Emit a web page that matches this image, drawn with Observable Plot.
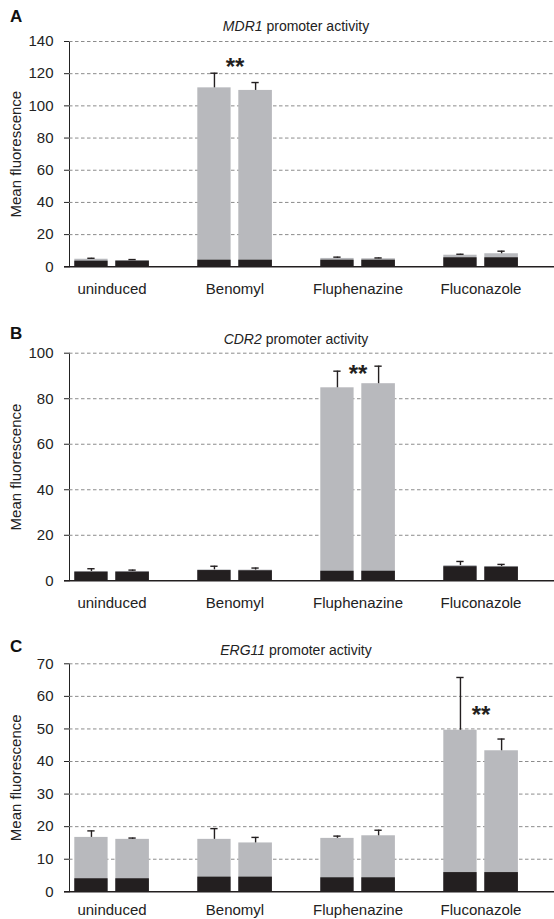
<!DOCTYPE html>
<html><head><meta charset="utf-8">
<script src="https://cdn.jsdelivr.net/npm/d3@7"></script>
<script src="https://cdn.jsdelivr.net/npm/@observablehq/plot@0.6"></script>
<style>
body{margin:0;background:#fff;}
#root{position:relative;width:554px;height:919px;overflow:hidden;font-family:"Liberation Sans",Arial,sans-serif;background:#fff;}
.plotbox{position:absolute;left:0;z-index:1}
.letter{position:absolute;left:10px;font-weight:bold;font-size:17px;line-height:20px;z-index:2;color:#111}
.title{position:absolute;transform:translateX(-50%);font-size:14px;line-height:18px;white-space:nowrap;z-index:2;color:#222}
svg{background:none !important;}
</style></head><body><div id="root"></div>
<script>
// ---- data ----
const groups = ["uninduced", "Benomyl", "Fluphenazine", "Fluconazole"];
const replicates = [1, 2];

// MDR1 (panel A), order: group x replicate
const mdr1Total = [4.7, 3.9, 111.2, 109.6, 5.2, 5.0, 7.2, 8.1];
const mdr1Base  = [3.5, 3.5, 4.1, 4.1, 4.1, 4.1, 5.6, 5.6];
const mdr1Err   = [0.6, 0.6, 9.1, 4.9, 0.8, 0.5, 0.6, 1.6];
const mdr1Ticks = [0, 20, 40, 60, 80, 100, 120, 140];

// CDR2 (panel B)
const cdr2Total = [4.1, 4.1, 4.8, 4.7, 84.8, 86.6, 6.7, 6.3];
const cdr2Base  = [3.8, 3.8, 4.5, 4.4, 4.2, 4.2, 6.2, 6.0];
const cdr2Err   = [1.2, 0.6, 1.6, 0.9, 7.3, 7.7, 1.8, 0.9];
const cdr2Ticks = [0, 20, 40, 60, 80, 100];

// ERG11 (panel C)
const erg11Total = [16.7, 16.1, 16.1, 15.0, 16.4, 17.2, 49.6, 43.3];
const erg11Base  = [4.0, 4.0, 4.5, 4.5, 4.3, 4.3, 5.9, 5.9];
const erg11Err   = [2.0, 0.4, 3.3, 1.7, 0.7, 1.7, 16.2, 3.6];
const erg11Ticks = [0, 10, 20, 30, 40, 50, 60, 70];

// significance markers
const starGroups = ["Benomyl", "Fluphenazine", "Fluconazole"];
const starValues = [127.5, 93.3, 56];
const starLabel = "**";

const panelLetters = ["A", "B", "C"];
const panelGenes = ["MDR1", "CDR2", "ERG11"];
const titleSuffix = " promoter activity";
const yLabel = "Mean fluorescence";

// ---- layout (pixels) ----
const W = 554, ML = 69;
const GREY = "#b8b9bd", DARK = "#231f20";
const bandRange = [48.4, 543.2];
const rep1 = {insetLeft: 24.3, insetRight: 65.4}, rep2 = {insetLeft: 65.3, insetRight: 24.1};
const repDx = [-20.55, 20.6];
const capIns = [{insetLeft: 37.3, insetRight: 78.4}, {insetLeft: 78.4, insetRight: 37.3}];

const layouts = [
  {svgTop: 28, height: 272, mTop: 13, mBottom: 33.7, letterTop: 7, titleTop: 17, pad: 17},
  {svgTop: 340, height: 275, mTop: 12.7, mBottom: 34.7, letterTop: 324, titleTop: 330, pad: 17},
  {svgTop: 650, height: 269, mTop: 13.3, mBottom: 27.7, letterTop: 637, titleTop: 641, pad: 13}
];
const panels = [
  {total: mdr1Total, base: mdr1Base, err: mdr1Err, ticks: mdr1Ticks},
  {total: cdr2Total, base: cdr2Base, err: cdr2Err, ticks: cdr2Ticks},
  {total: erg11Total, base: erg11Base, err: erg11Err, ticks: erg11Ticks}
];

const root = document.getElementById("root");

panels.forEach((p, k) => {
  const L = layouts[k];
  const rows = p.total.map((t, i) => ({
    group: groups[Math.floor(i / 2)],
    rep: replicates[i % 2],
    total: t, base: p.base[i], err: p.err[i], top: t + p.err[i]
  }));
  const r1 = rows.filter(d => d.rep === 1), r2 = rows.filter(d => d.rep === 2);
  const ymax = p.ticks[p.ticks.length - 1];
  const marks = [
    Plot.ruleY(p.ticks.filter(t => t > 0), {stroke: "#8c8c8c", strokeDasharray: "3.5,2.5", strokeWidth: 1}),
    Plot.barY(r1, {x: "group", y: "total", fill: GREY, ...rep1}),
    Plot.barY(r2, {x: "group", y: "total", fill: GREY, ...rep2}),
    Plot.barY(r1, {x: "group", y: "base", fill: DARK, ...rep1}),
    Plot.barY(r2, {x: "group", y: "base", fill: DARK, ...rep2}),
    Plot.ruleX(r1, {x: "group", y1: "total", y2: "top", dx: repDx[0], stroke: DARK, strokeWidth: 1.4}),
    Plot.ruleX(r2, {x: "group", y1: "total", y2: "top", dx: repDx[1], stroke: DARK, strokeWidth: 1.4}),
    Plot.tickY(r1, {x: "group", y: "top", stroke: DARK, strokeWidth: 1.4, ...capIns[0]}),
    Plot.tickY(r2, {x: "group", y: "top", stroke: DARK, strokeWidth: 1.4, ...capIns[1]}),
    Plot.ruleY([0], {stroke: DARK, strokeWidth: 1.5, insetLeft: -5}),
    Plot.text([{g: starGroups[k], v: starValues[k]}], {x: "g", y: "v", text: () => starLabel, fontSize: 24, fontWeight: "bold", lineAnchor: "middle", dy: 6, fill: DARK}),
    Plot.text([yLabel], {frameAnchor: "left", textAnchor: "middle", lineAnchor: "middle", rotate: -90, dx: -53, fontSize: 15, fill: "#222", text: d => d})
  ];
  const chart = Plot.plot({
    width: W, height: L.height,
    marginLeft: ML, marginRight: 0, marginTop: L.mTop, marginBottom: L.mBottom,
    style: {fontFamily: "'Liberation Sans', Arial, sans-serif", fontSize: "15px", color: "#222", background: "none", overflow: "visible"},
    x: {domain: groups, range: bandRange, padding: 0, tickSize: 0, tickPadding: L.pad, label: null},
    y: {domain: [0, ymax], ticks: p.ticks, tickSize: 5, tickPadding: 11, line: true, label: null},
    marks
  });
  const box = document.createElement("div");
  box.className = "plotbox";
  box.style.top = L.svgTop + "px";
  box.appendChild(chart);
  root.appendChild(box);

  const letter = document.createElement("div");
  letter.className = "letter";
  letter.style.top = L.letterTop + "px";
  letter.textContent = panelLetters[k];
  root.appendChild(letter);

  const title = document.createElement("div");
  title.className = "title";
  title.style.top = L.titleTop + "px";
  title.style.left = "296px";
  const it = document.createElement("i");
  it.textContent = panelGenes[k];
  title.appendChild(it);
  title.appendChild(document.createTextNode(titleSuffix));
  root.appendChild(title);
});
</script>
</body></html>
